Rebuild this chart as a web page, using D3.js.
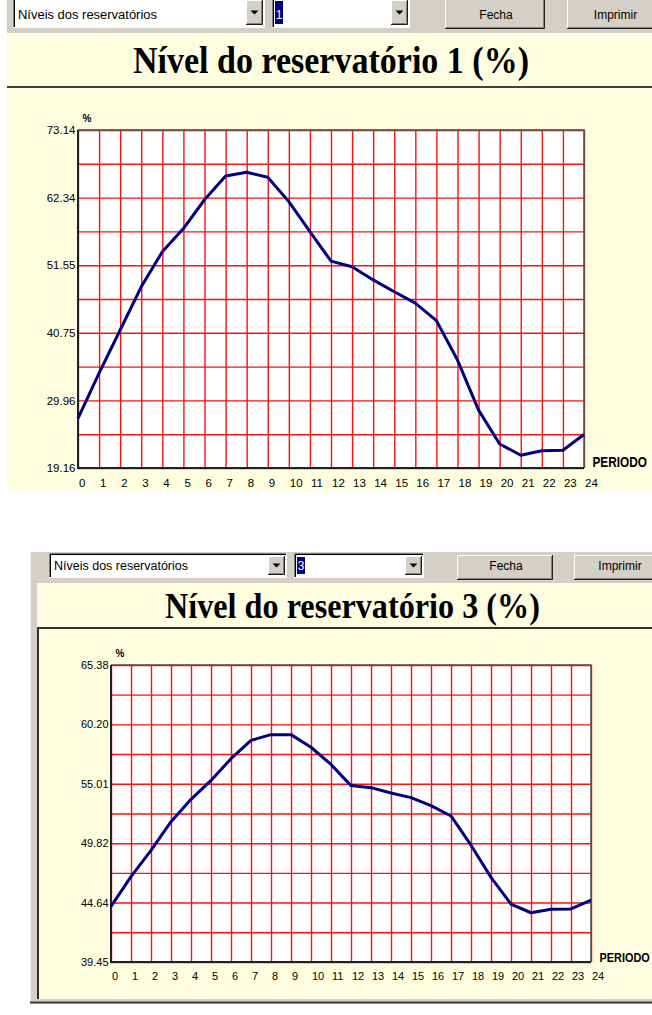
<!DOCTYPE html>
<html>
<head>
<meta charset="utf-8">
<script src="https://cdnjs.cloudflare.com/ajax/libs/d3/7.8.5/d3.min.js"></script>
<style>
  body { margin: 0; background: #fff; }
  text { font-family: "Liberation Sans", Arial, sans-serif; }
</style>
</head>
<body>
<script>
//= ================================
var periodos = [0, 1, 2, 3, 4, 5, 6, 7, 8, 9, 10, 11, 12, 13, 14, 15, 16, 17, 18, 19, 20, 21, 22, 23, 24];

var nivelRes1 = [27.1, 34.3, 41.2, 48.1, 53.7, 57.4, 62.0, 65.8, 66.4, 65.6, 61.7, 56.9, 52.2,
                 51.3, 49.2, 47.3, 45.5, 42.7, 36.4, 28.4, 23.0, 21.2, 21.9, 22.0, 24.5];
var nivelRes3 = [44.3, 46.9, 49.2, 51.7, 53.65, 55.3, 57.2, 58.8, 59.3, 59.3, 58.2, 56.7, 54.85,
                 54.67, 54.2, 53.8, 53.1, 52.2, 49.65, 46.84, 44.5, 43.75, 44.05, 44.08, 44.86];

var ticksRes1 = [19.16, 29.96, 40.75, 51.55, 62.34, 73.14];
var ticksRes3 = [39.45, 44.64, 49.82, 55.01, 60.20, 65.38];

var titulos = ["Nível do reservatório 1 (%)", "Nível do reservatório 3 (%)"];
var selecao = ["1", "3"];
var menuTexto = "Níveis dos reservatórios";
var botoes = ["Fecha", "Imprimir"];

// Cores
var creme = "#fffde0";
var cinza = "#d4d0c8";
var vermelho = "#ff1010";

var svg = d3.select("body").append("svg")
  .attr("width", 652)
  .attr("height", 1015);

// Layout de cada janela (posicoes em pixels)
var janelas = [
  {
    valores: nivelRes1, ticks: ticksRes1, titulo: titulos[0], sel: selecao[0],
    esq: 7, barraTopo: -5, barraFim: 33, faixaFim: 86, fundo: 492, moldura: false,
    combo1: [13, -3, 252, 31], combo2: [272, -3, 138, 31],
    fecha: [445, -2, 100, 31], imprimir: [567, -2, 95, 31],
    textoW: 139, textoY: 19,
    tituloX: 133, tituloY: 73, tituloW: 396, tituloF: 38,
    plot: { x0: 78, x1: 584, y0: 130, y1: 468 },
    fonte: 11.5, padX: 10.8, periodoF: 11.8, periodoSy: 1.25, periodoDy: -1
  },
  {
    valores: nivelRes3, ticks: ticksRes3, titulo: titulos[1], sel: selecao[1],
    esq: 37, barraTopo: 552, barraFim: 583, faixaFim: 627, fundo: 999, moldura: true,
    combo1: [49, 553, 238, 25], combo2: [294, 553, 130, 25],
    fecha: [457, 555, 96, 25], imprimir: [574, 555, 90, 25],
    textoW: 134, textoY: 570,
    tituloX: 165, tituloY: 618, tituloW: 375, tituloF: 36,
    plot: { x0: 111, x1: 591, y0: 665, y1: 962 },
    fonte: 11, padX: 9.7, periodoF: 10.9, periodoSy: 1.25, periodoDy: -0.5
  }
];

// Botao com relevo estilo Windows
function botao3d(g, x, y, w, h) {
  g.append("rect").attr("x", x).attr("y", y).attr("width", w).attr("height", h).attr("fill", cinza);
  g.append("path").attr("d", "M" + (x + 0.5) + "," + (y + h) + "V" + (y + 0.5) + "H" + (x + w))
    .attr("fill", "none").attr("stroke", "#fff");
  g.append("path").attr("d", "M" + x + "," + (y + h - 0.5) + "H" + (x + w - 0.5) + "V" + y)
    .attr("fill", "none").attr("stroke", "#202020");
  g.append("path").attr("d", "M" + (x + 1) + "," + (y + h - 1.5) + "H" + (x + w - 1.5) + "V" + (y + 1))
    .attr("fill", "none").attr("stroke", "#808080");
}

function combo(g, r, conteudo, sel, textoW, textoY) {
  var x = r[0], y = r[1], w = r[2], h = r[3];
  g.append("rect").attr("x", x).attr("y", y).attr("width", w).attr("height", h).attr("fill", "#fff");
  g.append("path").attr("d", "M" + (x + 0.5) + "," + (y + h) + "V" + (y + 0.5) + "H" + (x + w))
    .attr("fill", "none").attr("stroke", "#808080");
  g.append("path").attr("d", "M" + (x + 1.5) + "," + (y + h - 1) + "V" + (y + 1.5) + "H" + (x + w - 1))
    .attr("fill", "none").attr("stroke", "#000");
  g.append("path").attr("d", "M" + x + "," + (y + h - 0.5) + "H" + (x + w - 0.5) + "V" + y)
    .attr("fill", "none").attr("stroke", "#fff");

  // botao da seta
  var bx = x + w - 19, by = y + 3, bw = 17, bh = h - 6;
  botao3d(g, bx, by, bw, bh);
  var cx = bx + bw / 2, cy = by + bh / 2;
  g.append("path")
    .attr("d", "M" + (cx - 4) + "," + (cy - 2) + "H" + (cx + 4) + "L" + cx + "," + (cy + 2) + "Z")
    .attr("fill", "#000");

  if (sel) {
    g.append("rect").attr("x", x + 3).attr("y", y + 4).attr("width", 8).attr("height", h - 8)
      .attr("fill", "#000080");
    g.append("text").attr("x", x + 7).attr("y", textoY)
      .attr("text-anchor", "middle").attr("font-size", 12).attr("fill", "#fff").text(sel);
  } else {
    g.append("text").attr("x", x + 5).attr("y", textoY)
      .attr("font-size", 12.5).attr("textLength", textoW).attr("lengthAdjust", "spacingAndGlyphs")
      .attr("fill", "#000").text(conteudo);
  }
}

function botaoTexto(g, r, rotulo, textoY) {
  botao3d(g, r[0], r[1], r[2], r[3]);
  g.append("text").attr("x", r[0] + r[2] / 2 + 1).attr("y", textoY)
    .attr("text-anchor", "middle").attr("font-size", 12).attr("fill", "#000").text(rotulo);
}

janelas.forEach(function(j) {
  var g = svg.append("g");
  var p = j.plot;

  // Step 1: moldura, barra de ferramentas e faixas creme
  if (j.moldura) {
    g.append("rect").attr("x", 30).attr("y", j.barraTopo).attr("width", 640).attr("height", 1004 - j.barraTopo)
      .attr("fill", cinza);
    g.append("line").attr("x1", 30.5).attr("x2", 30.5).attr("y1", j.barraTopo).attr("y2", 1004)
      .attr("stroke", "#eeeeee");
    g.append("line").attr("x1", 30).attr("x2", 652).attr("y1", 1002.5).attr("y2", 1002.5)
      .attr("stroke", "#404040").attr("stroke-width", 2);
  } else {
    g.append("rect").attr("x", j.esq).attr("y", j.barraTopo).attr("width", 652 - j.esq)
      .attr("height", j.barraFim - j.barraTopo).attr("fill", cinza);
  }

  g.append("rect").attr("x", j.esq).attr("y", j.barraFim).attr("width", 652 - j.esq)
    .attr("height", j.faixaFim - j.barraFim).attr("fill", creme);
  g.append("rect").attr("x", j.esq).attr("y", j.faixaFim).attr("width", 652 - j.esq)
    .attr("height", j.fundo - j.faixaFim).attr("fill", creme);

  if (j.moldura) {
    g.append("path").attr("d", "M" + (j.esq + 1) + "," + j.fundo + "V" + (j.faixaFim + 1) + "H652")
      .attr("fill", "none").attr("stroke", "#303030").attr("stroke-width", 2);
  } else {
    g.append("line").attr("x1", j.esq).attr("x2", 652).attr("y1", j.faixaFim + 1).attr("y2", j.faixaFim + 1)
      .attr("stroke", "#404040").attr("stroke-width", 2);
  }

  combo(g, j.combo1, menuTexto, null, j.textoW, j.textoY);
  combo(g, j.combo2, null, j.sel, j.textoW, j.textoY);
  botaoTexto(g, j.fecha, botoes[0], j.textoY);
  botaoTexto(g, j.imprimir, botoes[1], j.textoY);

  g.append("text")
    .attr("x", j.tituloX).attr("y", j.tituloY)
    .style("font-family", "'Liberation Serif', 'Times New Roman', serif")
    .attr("font-weight", "bold").attr("font-size", j.tituloF)
    .attr("textLength", j.tituloW).attr("lengthAdjust", "spacingAndGlyphs")
    .attr("fill", "#000").text(j.titulo);

  // Step 2: escalas e grade
  var xScale = d3.scaleLinear().domain([0, 24]).range([p.x0, p.x1]);
  var yScale = d3.scaleLinear().domain([j.ticks[0], j.ticks[j.ticks.length - 1]]).range([p.y1, p.y0]);

  var linhasH = [];
  j.ticks.forEach(function(t, i) {
    linhasH.push(t);
    if (i < j.ticks.length - 1) linhasH.push((t + j.ticks[i + 1]) / 2);
  });

  g.append("rect").attr("x", p.x0).attr("y", p.y0).attr("width", p.x1 - p.x0).attr("height", p.y1 - p.y0)
    .attr("fill", "#fff");

  var fmt = d3.format(".2f");
  var gy = g.append("g")
    .attr("transform", "translate(" + p.x0 + ",0)")
    .call(d3.axisLeft(yScale).tickValues(linhasH).tickSize(-(p.x1 - p.x0)).tickPadding(2.5)
      .tickFormat(function(d) { return j.ticks.indexOf(d) >= 0 ? fmt(d) : ""; }));
  gy.select(".domain").remove();
  gy.selectAll("line").style("stroke", vermelho).style("stroke-width", 1.4);
  gy.selectAll("text").attr("font-size", j.fonte).style("fill", "#000");

  var gx = g.append("g")
    .attr("transform", "translate(0," + p.y1 + ")")
    .call(d3.axisBottom(xScale).tickValues(periodos).tickSize(-(p.y1 - p.y0)).tickPadding(j.padX)
      .tickFormat(d3.format("d")));
  gx.select(".domain").remove();
  gx.selectAll("line").style("stroke", vermelho).style("stroke-width", 1.4);
  gx.selectAll("text").attr("font-size", j.fonte).style("fill", "#000")
    .attr("text-anchor", "start").attr("dx", 0.5);

  // borda da area do grafico
  g.append("path")
    .attr("d", "M" + p.x0 + "," + p.y0 + "H" + p.x1 + "V" + p.y1)
    .attr("fill", "none").attr("stroke", "#505050").attr("stroke-width", 1.5);
  g.append("path")
    .attr("d", "M" + p.x0 + "," + p.y0 + "V" + p.y1 + "H" + p.x1)
    .attr("fill", "none").attr("stroke", "#202020").attr("stroke-width", 2);

  // Step 3: a linha do nivel
  var linha = d3.line()
    .x(function(d, i) { return xScale(periodos[i]); })
    .y(function(d) { return yScale(d); });

  g.append("path")
    .datum(j.valores)
    .attr("d", linha)
    .attr("fill", "none")
    .attr("stroke", "#000080")
    .attr("stroke-width", 3)
    .attr("stroke-linejoin", "round");

  // rotulos dos eixos
  g.append("text")
    .attr("x", p.x0 + 9).attr("y", p.y0 - 8)
    .attr("text-anchor", "middle").attr("font-size", 10).attr("font-weight", "bold")
    .attr("fill", "#000").text("%");

  g.append("text")
    .attr("transform", "translate(" + (p.x1 + 8.5) + "," + (p.y1 + j.periodoDy) + ") scale(1," + j.periodoSy + ")")
    .attr("font-size", j.periodoF).attr("font-weight", "bold")
    .attr("fill", "#000").text("PERIODO");
});
</script>
</body>
</html>
